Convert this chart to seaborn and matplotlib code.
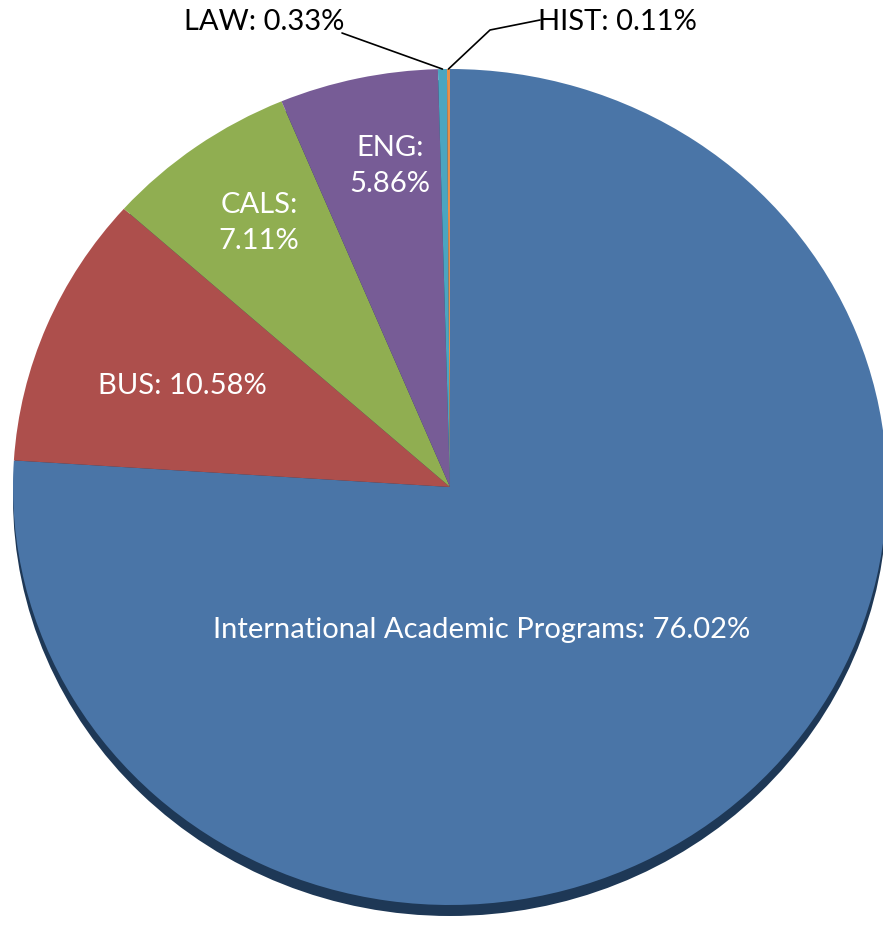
import numpy as np
import matplotlib
matplotlib.use("Agg")
import matplotlib.pyplot as plt
from matplotlib.patches import Ellipse
import seaborn as sns

# Data
colleges = ["International Academic Programs", "BUS", "CALS", "ENG", "LAW", "HIST"]
shares = [76.02, 10.58, 7.11, 5.86, 0.33, 0.11]
colors = ["#4A75A7", "#AD4F4C", "#90AE51", "#775C96", "#4BA5C0", "#E8904A"]

sns.set_theme(style="white")
plt.rcParams["font.family"] = ["Lato", "DejaVu Sans"]

W, H = 883, 932
cx, cy = 450, 487      # pie centre in pixels (from top)
rx, ry = 437, 418      # horizontal / vertical radius in pixels

fig = plt.figure(figsize=(W / 100, H / 100), dpi=100)
ax = fig.add_axes([0, 0, 1, 1])

def px(x, y):
    # pixel position -> data coords
    return (x - cx) / rx, (cy - y) / ry

# dark rim under the pie (3D look)
ax.add_patch(Ellipse((0, -11 / ry), 2.0, 2.0, facecolor="#1E3856", edgecolor="none", zorder=0))

wedges, _ = ax.pie(shares, colors=colors, startangle=90, counterclock=False,
                   radius=1.0, wedgeprops=dict(linewidth=0), frame=False)
ax.set_xlim(-cx / rx, (W - cx) / rx)
ax.set_ylim(-(H - cy) / ry, cy / ry)
ax.set_aspect("auto")
ax.axis("off")

fs = 21
white_labels = {
    "International Academic Programs": (482, 630),
    "BUS": (182, 386),
    "CALS": (259, 223),
    "ENG": (390, 166),
}
for name, val in zip(colleges, shares):
    if name in white_labels:
        x, y = px(*white_labels[name])
        txt = f"{name}: {val:.2f}%"
        if name in ("CALS", "ENG"):
            txt = f"{name}:\n{val:.2f}%"
        ax.text(x, y, txt, ha="center", va="center", color="white", fontsize=fs,
                linespacing=1.5)

# outside labels with leader lines
outside = {"LAW": ((264, 22), (342, 33)), "HIST": ((617, 22), (540, 20))}
cum = np.cumsum([0] + shares)
for i, (name, val) in enumerate(zip(colleges, shares)):
    if name not in outside:
        continue
    mid = (cum[i] + cum[i + 1]) / 2 / cum[-1]
    ang = np.deg2rad(90 - 360 * mid)
    tip = (np.cos(ang), np.sin(ang))
    (tx, ty), (lx, ly) = outside[name]
    ax.text(*px(tx, ty), f"{name}: {val:.2f}%", ha="center", va="center",
            color="black", fontsize=fs)
    end = px(lx, ly)
    if name == "HIST":
        bend = px(490, 30)
        ax.plot([tip[0], bend[0], end[0]], [tip[1], bend[1], end[1]],
                color="black", lw=1.2)
    else:
        ax.plot([tip[0], end[0]], [tip[1], end[1]], color="black", lw=1.2)

fig.savefig("out.png", dpi=100)
